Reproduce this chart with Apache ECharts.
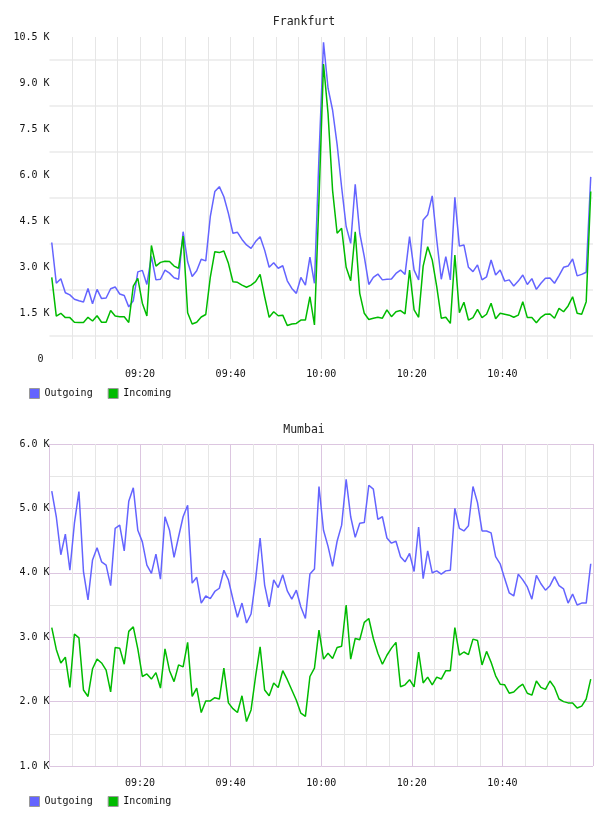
<!DOCTYPE html>
<html>
<head>
<meta charset="utf-8">
<title>Frankfurt / Mumbai</title>
<script src="https://cdn.jsdelivr.net/npm/echarts@6/dist/echarts.min.js"></script>
<style>
  html, body { margin: 0; padding: 0; background: #fff; }
  #chart { width: 608px; height: 816px; }
</style>
</head>
<body>
<div id="chart"></div>
<script>
// samples are one minute apart, the first one half a minute after 09:00
const firstSampleMinute = 0.5
const sampleStep = 1

const seriesNames = ['Outgoing', 'Incoming']
const cities = ['Frankfurt', 'Mumbai']

// values in thousands
const frankfurtOutgoing = [
  3.80, 2.47, 2.62, 2.16, 2.09, 1.95, 1.90, 1.86, 2.30, 1.80,
  2.27, 1.97, 1.99, 2.29, 2.35, 2.12, 2.07, 1.70, 1.90, 2.84,
  2.89, 2.43, 3.35, 2.58, 2.60, 2.90, 2.80, 2.65, 2.60, 4.15,
  3.17, 2.69, 2.88, 3.25, 3.20, 4.64, 5.46, 5.62, 5.29, 4.75,
  4.10, 4.13, 3.90, 3.72, 3.61, 3.83, 3.99, 3.55, 2.99, 3.14,
  2.96, 3.04, 2.55, 2.30, 2.14, 2.66, 2.41, 3.32, 2.47, 6.60,
  10.33, 8.83, 8.12, 7.00, 5.60, 4.32, 3.77, 5.70, 4.10, 3.34,
  2.43, 2.66, 2.77, 2.58, 2.60, 2.61, 2.79, 2.90, 2.76, 3.99,
  2.90, 2.58, 4.53, 4.70, 5.32, 3.88, 2.60, 3.34, 2.58, 5.27,
  3.68, 3.72, 2.99, 2.85, 3.07, 2.58, 2.68, 3.23, 2.74, 2.90,
  2.54, 2.58, 2.38, 2.54, 2.74, 2.43, 2.62, 2.27, 2.47, 2.63,
  2.64, 2.47, 2.72, 2.99, 3.03, 3.26, 2.71, 2.76, 2.83, 5.94
]
const frankfurtIncoming = [
  2.66, 1.40, 1.49, 1.35, 1.35, 1.20, 1.19, 1.19, 1.36, 1.24,
  1.41, 1.20, 1.20, 1.58, 1.40, 1.38, 1.38, 1.19, 2.38, 2.63,
  1.82, 1.40, 3.70, 3.03, 3.15, 3.19, 3.18, 3.03, 2.96, 4.01,
  1.51, 1.14, 1.20, 1.37, 1.45, 2.66, 3.50, 3.47, 3.52, 3.12,
  2.52, 2.50, 2.41, 2.34, 2.41, 2.52, 2.76, 2.03, 1.36, 1.54,
  1.41, 1.43, 1.09, 1.14, 1.16, 1.27, 1.27, 2.03, 1.11, 5.20,
  9.62, 8.00, 5.50, 4.10, 4.26, 2.99, 2.55, 4.15, 2.14, 1.49,
  1.29, 1.33, 1.36, 1.33, 1.60, 1.38, 1.54, 1.58, 1.47, 2.90,
  1.60, 1.36, 3.03, 3.66, 3.23, 2.36, 1.33, 1.36, 1.16, 3.39,
  1.51, 1.85, 1.27, 1.35, 1.62, 1.35, 1.46, 1.82, 1.31, 1.49,
  1.46, 1.43, 1.36, 1.43, 1.87, 1.35, 1.35, 1.18, 1.36, 1.46,
  1.47, 1.33, 1.65, 1.54, 1.73, 2.03, 1.49, 1.46, 1.87, 5.46
]
const mumbaiOutgoing = [
  5.27, 4.87, 4.28, 4.60, 4.04, 4.77, 5.26, 4.02, 3.58, 4.20,
  4.39, 4.17, 4.12, 3.80, 4.69, 4.74, 4.34, 5.11, 5.32, 4.66,
  4.48, 4.12, 3.99, 4.29, 3.90, 4.87, 4.66, 4.24, 4.56, 4.87,
  5.05, 3.84, 3.93, 3.53, 3.64, 3.60, 3.71, 3.76, 4.04, 3.89,
  3.59, 3.31, 3.53, 3.22, 3.36, 3.89, 4.54, 3.81, 3.47, 3.89,
  3.77, 3.97, 3.72, 3.59, 3.73, 3.47, 3.29, 3.98, 4.06, 5.34,
  4.66, 4.41, 4.10, 4.49, 4.74, 5.45, 4.87, 4.55, 4.77, 4.78,
  5.36, 5.30, 4.83, 4.87, 4.54, 4.46, 4.49, 4.25, 4.17, 4.30,
  4.02, 4.71, 3.91, 4.34, 4.00, 4.03, 3.98, 4.03, 4.04, 5.00,
  4.69, 4.65, 4.73, 5.34, 5.09, 4.65, 4.65, 4.62, 4.25, 4.14,
  3.91, 3.69, 3.64, 3.98, 3.89, 3.78, 3.59, 3.96, 3.83, 3.73,
  3.80, 3.94, 3.80, 3.75, 3.53, 3.67, 3.50, 3.53, 3.53, 4.14
]
const mumbaiIncoming = [
  3.15, 2.81, 2.60, 2.69, 2.22, 3.05, 2.99, 2.18, 2.08, 2.51,
  2.66, 2.60, 2.49, 2.15, 2.84, 2.83, 2.58, 3.09, 3.16, 2.82,
  2.39, 2.43, 2.35, 2.45, 2.21, 2.82, 2.48, 2.31, 2.57, 2.54,
  2.92, 2.08, 2.21, 1.83, 2.01, 2.01, 2.06, 2.04, 2.52, 1.98,
  1.89, 1.83, 2.09, 1.69, 1.87, 2.39, 2.85, 2.18, 2.09, 2.29,
  2.22, 2.48, 2.34, 2.18, 2.02, 1.82, 1.77, 2.39, 2.52, 3.11,
  2.66, 2.75, 2.67, 2.84, 2.86, 3.50, 2.66, 2.98, 2.96, 3.23,
  3.29, 2.98, 2.75, 2.58, 2.72, 2.83, 2.92, 2.23, 2.26, 2.34,
  2.23, 2.77, 2.29, 2.38, 2.26, 2.38, 2.35, 2.48, 2.48, 3.15,
  2.72, 2.77, 2.73, 2.97, 2.95, 2.57, 2.78, 2.61, 2.40, 2.27,
  2.26, 2.13, 2.15, 2.22, 2.27, 2.13, 2.10, 2.32, 2.22, 2.19,
  2.32, 2.22, 2.04, 2.00, 1.98, 1.98, 1.90, 1.93, 2.04, 2.35
]

// y scales (thousands)
const frankfurtScale = { min: 0, max: 10.5, interval: 1.5 }
const mumbaiScale = { min: 1, max: 6, interval: 1 }

const sampleMinutes = frankfurtOutgoing.map((_, i) => firstSampleMinute + i * sampleStep)

const MONO = '"DejaVu Sans Mono", monospace'
const BLUE = '#6464ff'
const GREEN = '#00bb00'
const GRID_GRAY = '#e6e6e6'
const GRID_PURPLE = '#dcc6e0'

const toPairs = (vals) => vals.map((v, i) => [sampleMinutes[i], v])

const clock = (m) => {
  const h = 9 + Math.floor(m / 60)
  const mm = Math.round(m % 60)
  return String(h).padStart(2, '0') + ':' + String(mm).padStart(2, '0')
}

const kLabel = (v) => (v === 0 ? '0 ' : v.toFixed(1) + ' K')

const gridTops = [37, 444]
const titleTops = [11, 419]
const legendTops = [387, 795]

const buildXAxes = (gridIndex, purple) => [
  {
    type: 'value',
    gridIndex,
    position: 'bottom',
    min: 0,
    max: 120,
    interval: 5,
    axisLine: { show: false },
    axisTick: { show: false },
    axisLabel: { show: false },
    splitLine: {
      show: true,
      showMinLine: false,
      showMaxLine: false,
      lineStyle: { color: GRID_GRAY, width: 1 },
    },
  },
  {
    type: 'value',
    gridIndex,
    position: 'bottom',
    min: 0,
    max: 120,
    interval: 20,
    axisLine: { show: false },
    axisTick: { show: false },
    axisLabel: {
      show: true,
      showMinLabel: false,
      showMaxLabel: false,
      margin: purple ? 12 : 10,
      color: '#111',
      fontFamily: MONO,
      fontSize: 10,
      formatter: clock,
    },
    splitLine: {
      show: purple,
      lineStyle: { color: GRID_PURPLE, width: 1 },
    },
  },
]

const buildYAxis = (gridIndex, scale, purple) => ({
  type: 'value',
  gridIndex,
  min: scale.min,
  max: scale.max,
  interval: scale.interval,
  axisLine: { show: false },
  axisTick: { show: false },
  axisLabel: {
    margin: 0,
    color: '#111',
    fontFamily: MONO,
    fontSize: 10,
    formatter: kLabel,
  },
  splitLine: {
    show: purple,
    lineStyle: { color: GRID_PURPLE, width: 1 },
  },
  minorTick: { show: false, splitNumber: 2 },
  minorSplitLine: {
    show: true,
    lineStyle: { color: purple ? GRID_GRAY : '#efefef', width: purple ? 1 : 2 },
  },
})

const lineSeries = (name, color, values, gridIdx) => ({
  name,
  type: 'line',
  xAxisIndex: gridIdx * 2,
  yAxisIndex: gridIdx,
  data: toPairs(values),
  showSymbol: false,
  color,
  lineStyle: { color, width: 1.5 },
  z: name === 'Incoming' ? 3 : 2,
})

const chart = echarts.init(document.getElementById('chart'))

chart.setOption({
  animation: false,
  backgroundColor: '#fff',
  title: cities.map((text, i) => ({
    text,
    left: 'center',
    top: titleTops[i],
    textStyle: {
      fontFamily: MONO,
      fontSize: 11.5,
      fontWeight: 'normal',
      color: '#222',
    },
  })),
  legend: legendTops.map((top) => ({
    data: seriesNames,
    left: 24,
    top: top - 4,
    orient: 'horizontal',
    icon: 'rect',
    itemWidth: 10,
    itemHeight: 10,
    itemGap: 15,
    itemStyle: { borderColor: '#999', borderWidth: 1 },
    textStyle: { fontFamily: MONO, fontSize: 10, color: '#111' },
  })),
  grid: gridTops.map((top) => ({
    left: 49.5,
    right: 15,
    top,
    height: 322,
    containLabel: false,
  })),
  xAxis: [...buildXAxes(0, false), ...buildXAxes(1, true)],
  yAxis: [
    buildYAxis(0, frankfurtScale, false),
    buildYAxis(1, mumbaiScale, true),
  ],
  series: [
    lineSeries('Outgoing', BLUE, frankfurtOutgoing, 0),
    lineSeries('Incoming', GREEN, frankfurtIncoming, 0),
    lineSeries('Outgoing', BLUE, mumbaiOutgoing, 1),
    lineSeries('Incoming', GREEN, mumbaiIncoming, 1),
  ],
})
</script>
</body>
</html>
